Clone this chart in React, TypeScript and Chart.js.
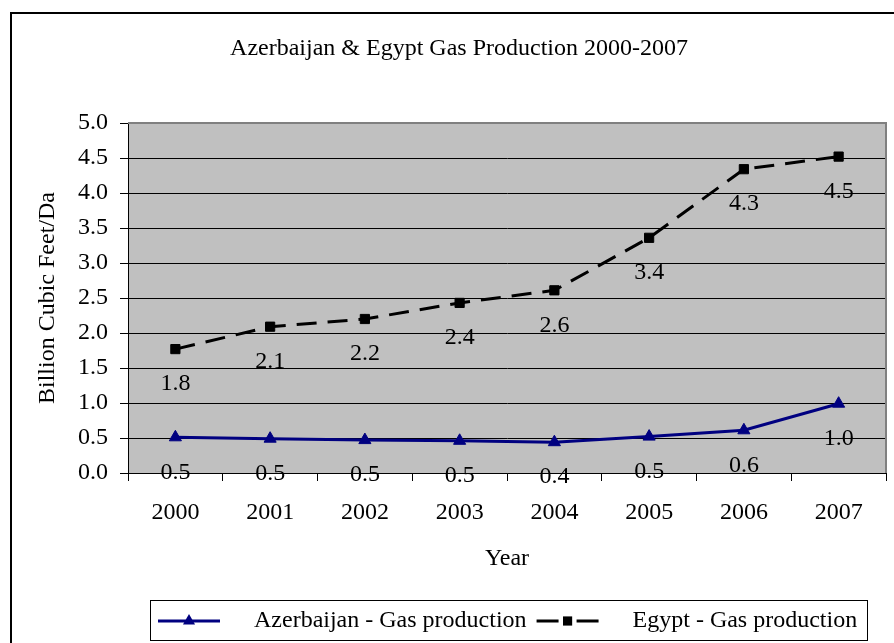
import { useEffect, useRef } from "react";
import { Chart, registerables } from "chart.js";

Chart.register(...registerables);

const years = ["2000", "2001", "2002", "2003", "2004", "2005", "2006", "2007"];
const azerbaijan = [0.51, 0.49, 0.47, 0.46, 0.44, 0.52, 0.61, 0.99];
const egypt = [1.77, 2.09, 2.2, 2.43, 2.61, 3.36, 4.34, 4.52];
const seriesNames = ["Azerbaijan - Gas production", "Egypt - Gas production"];
const chartTitle = "Azerbaijan & Egypt Gas Production 2000-2007";
const xTitle = "Year";
const yTitle = "Billion Cubic Feet/Da";

const FONT = '"Liberation Serif", "Times New Roman", serif';
const font24 = { family: FONT, size: 24, weight: "normal" as const };

const decor = {
  id: "decor",
  beforeDraw(chart: any) {
    const { ctx, chartArea: a } = chart;
    ctx.save();
    ctx.fillStyle = "#ffffff";
    ctx.fillRect(0, 0, chart.width, chart.height);
    ctx.fillStyle = "#C0C0C0";
    ctx.fillRect(a.left, a.top, a.right - a.left, a.bottom - a.top);
    ctx.strokeStyle = "#000";
    ctx.lineWidth = 2;
    ctx.beginPath();
    ctx.moveTo(11, chart.height + 5);
    ctx.lineTo(11, 13);
    ctx.lineTo(chart.width + 5, 13);
    ctx.stroke();
    ctx.restore();
  },
  beforeDatasetsDraw(chart: any) {
    const { ctx, chartArea: a } = chart;
    ctx.save();
    ctx.strokeStyle = "#808080";
    ctx.lineWidth = 2;
    ctx.beginPath();
    ctx.moveTo(a.left, a.top);
    ctx.lineTo(a.right, a.top);
    ctx.lineTo(a.right, a.bottom);
    ctx.stroke();
    ctx.restore();
  },
  afterDatasetsDraw(chart: any) {
    const { ctx } = chart;
    ctx.save();
    ctx.font = `24px ${FONT}`;
    ctx.fillStyle = "#000";
    ctx.textAlign = "center";
    ctx.textBaseline = "middle";
    chart.data.datasets.forEach((ds: any, i: number) => {
      const meta = chart.getDatasetMeta(i);
      meta.data.forEach((pt: any, j: number) => {
        ctx.fillText(Number(ds.data[j]).toFixed(1), pt.x, pt.y + 35);
      });
    });
    ctx.restore();
  },
  afterDraw(chart: any) {
    const { ctx } = chart;
    ctx.save();
    ctx.strokeStyle = "#000";
    ctx.lineWidth = 1;
    ctx.strokeRect(150.5, 600.5, 717, 40);
    ctx.font = `24px ${FONT}`;
    ctx.textBaseline = "middle";
    ctx.textAlign = "left";
    const y = 621;
    let x = 158;
    const lineLen = 62;
    chart.data.datasets.forEach((ds: any) => {
      const mid = x + lineLen / 2;
      ctx.strokeStyle = ds.borderColor;
      ctx.lineWidth = 3;
      ctx.beginPath();
      if (ds.borderDash && ds.borderDash.length) {
        ctx.moveTo(x, y);
        ctx.lineTo(x + 22, y);
        ctx.moveTo(x + lineLen - 22, y);
        ctx.lineTo(x + lineLen, y);
      } else {
        ctx.moveTo(x, y);
        ctx.lineTo(x + lineLen, y);
      }
      ctx.stroke();
      ctx.fillStyle = ds.backgroundColor;
      ctx.beginPath();
      if (ds.pointStyle === "triangle") {
        const r = ds.pointRadius;
        ctx.moveTo(mid, y - r);
        ctx.lineTo(mid + r * 0.866, y + r * 0.5);
        ctx.lineTo(mid - r * 0.866, y + r * 0.5);
        ctx.closePath();
      } else {
        const s = ds.pointRadius * Math.SQRT1_2;
        ctx.rect(mid - s, y - s, 2 * s, 2 * s);
      }
      ctx.fill();
      ctx.fillStyle = "#000";
      const tx = x + lineLen + 34;
      ctx.fillText(ds.label, tx, y);
      x = tx + ctx.measureText(ds.label).width + 10;
    });
    ctx.restore();
  },
};

export default function App() {
  const ref = useRef<HTMLCanvasElement | null>(null);
  useEffect(() => {
    if (!ref.current) return;
    const chart = new Chart(ref.current, {
      type: "line",
      data: {
        labels: years,
        datasets: [
          {
            label: seriesNames[0],
            data: azerbaijan,
            borderColor: "#000080",
            backgroundColor: "#000080",
            borderWidth: 3,
            pointStyle: "triangle",
            pointRadius: 7,
            pointBorderWidth: 1,
            tension: 0,
          },
          {
            label: seriesNames[1],
            data: egypt,
            borderColor: "#000000",
            backgroundColor: "#000000",
            borderWidth: 3,
            borderDash: [20, 11],
            pointStyle: "rect",
            pointRadius: 6.5,
            pointBorderWidth: 1,
            tension: 0,
          },
        ],
      },
      options: {
        responsive: false,
        animation: false,
        devicePixelRatio: 1,
        layout: { padding: { left: 28, right: 4, top: 10, bottom: 53 } },
        plugins: {
          legend: { display: false },
          tooltip: { enabled: false },
          title: {
            display: true,
            text: chartTitle,
            color: "#000",
            font: font24,
            padding: { top: 24.6, bottom: 59.6 },
          },
        },
        scales: {
          x: {
            type: "category",
            offset: true,
            grid: {
              offset: true,
              drawOnChartArea: false,
              drawTicks: true,
              tickLength: 8,
              color: "#000",
            },
            border: { color: "#000", width: 1 },
            ticks: {
              color: "#000",
              font: font24,
              padding: 17,
              maxRotation: 0,
              autoSkip: false,
            },
            title: {
              display: true,
              text: xTitle,
              color: "#000",
              font: font24,
              padding: { top: 0, bottom: 16.6 },
            },
            afterFit(s: any) {
              s.height = 117;
            },
          },
          y: {
            min: 0,
            max: 5,
            ticks: {
              stepSize: 0.5,
              callback: (v: any) => Number(v).toFixed(1),
              color: "#000",
              font: font24,
              padding: 12,
            },
            grid: {
              color: (c: any) => (c.tick && c.tick.value === 5 ? "#808080" : "#000"),
              tickColor: "#000",
              tickLength: 8,
              lineWidth: 1,
            },
            border: { color: "#000", width: 1 },
            title: {
              display: true,
              text: yTitle,
              color: "#000",
              font: font24,
              padding: { top: 5.6, bottom: 0 },
            },
            afterFit(s: any) {
              s.width = 100;
            },
          },
        },
      } as any,
      plugins: [decor],
    });
    return () => chart.destroy();
  }, []);
  return (
    <canvas
      ref={ref}
      width={894}
      height={643}
      style={{ position: "fixed", left: 0, top: 0, width: 894, height: 643 }}
    />
  );
}
